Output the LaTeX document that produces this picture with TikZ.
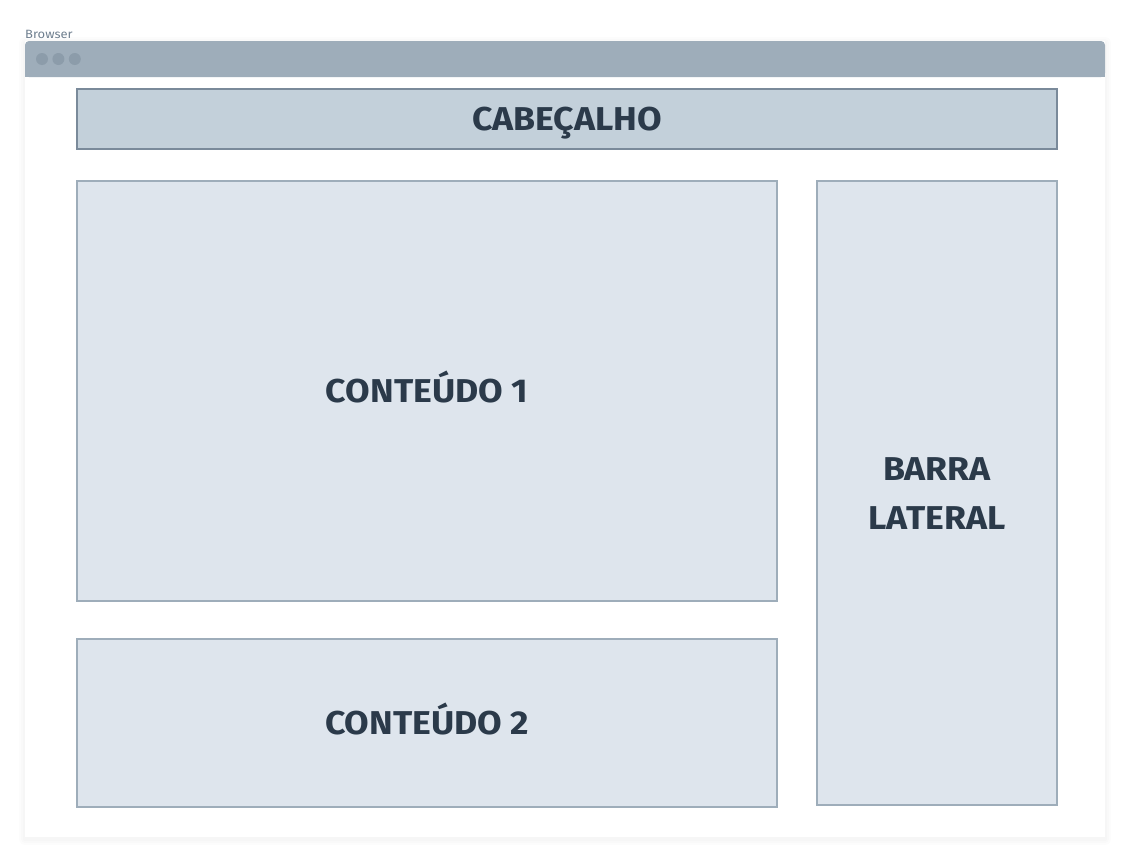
\documentclass[tikz,border=0pt]{standalone}
\usepackage{fontspec}
\setmainfont{Fira Sans}[FakeStretch=1.08]
\usetikzlibrary{positioning}
\definecolor{barblue}{HTML}{9EADBA}
\definecolor{dotgray}{HTML}{8C9CAA}
\definecolor{headfill}{HTML}{C3D0DA}
\definecolor{headline}{HTML}{7A8A9A}
\definecolor{boxfill}{HTML}{DEE5ED}
\definecolor{darktext}{HTML}{2B3A4A}
\definecolor{labelgray}{HTML}{6F7F8F}

\begin{document}
\begin{tikzpicture}[
    x=1pt, y=-1pt,
    region/.style={rectangle, draw=barblue, line width=1.5pt, fill=boxfill, text centered, align=center, inner sep=0pt, text height=23pt, text depth=0pt, text=darktext, font=\fontsize{33}{49}\selectfont\bfseries},
    headbox/.style={region, draw=headline, line width=2pt, fill=headfill},
    dot/.style={circle, fill=dotgray, minimum size=12pt, inner sep=0pt}
]
\useasboundingbox (0,0) rectangle (1130,862);

% Browser window
\foreach \s in {6,4,2}
    \fill[black, opacity=0.012, rounded corners=\s pt] (25-\s,41-\s+2) rectangle (1105+\s,837+\s+2);
\fill[white] (25,41) rectangle (1105,837);
\fill[barblue, rounded corners=4pt] (25,77) |- (1105,41) |- cycle;
\fill[barblue] (25,65) rectangle (1105,77);
\node (browser) [anchor=south west, inner sep=0pt, text=labelgray, font=\fontsize{12}{14}\selectfont] at (25,39) {Browser};
\node (dotA) [dot] at (42,59) {};
\node (dotB) [dot, right=4pt of dotA] {};
\node (dotC) [dot, right=4pt of dotB] {};

% Regions
\node (header) [headbox, minimum width=980pt, minimum height=60pt] at (567,119) {CABEÇALHO};
\node (content1) [region, minimum width=700pt, minimum height=420pt] at (427,391) {CONTEÚDO 1};
\node (content2) [region, minimum width=700pt, minimum height=168pt] at (427,723) {CONTEÚDO 2};
\node (sidebar) [region, text height=72pt, minimum width=240pt, minimum height=624pt] at (937,493) {BARRA\\LATERAL};

\end{tikzpicture}
\end{document}
